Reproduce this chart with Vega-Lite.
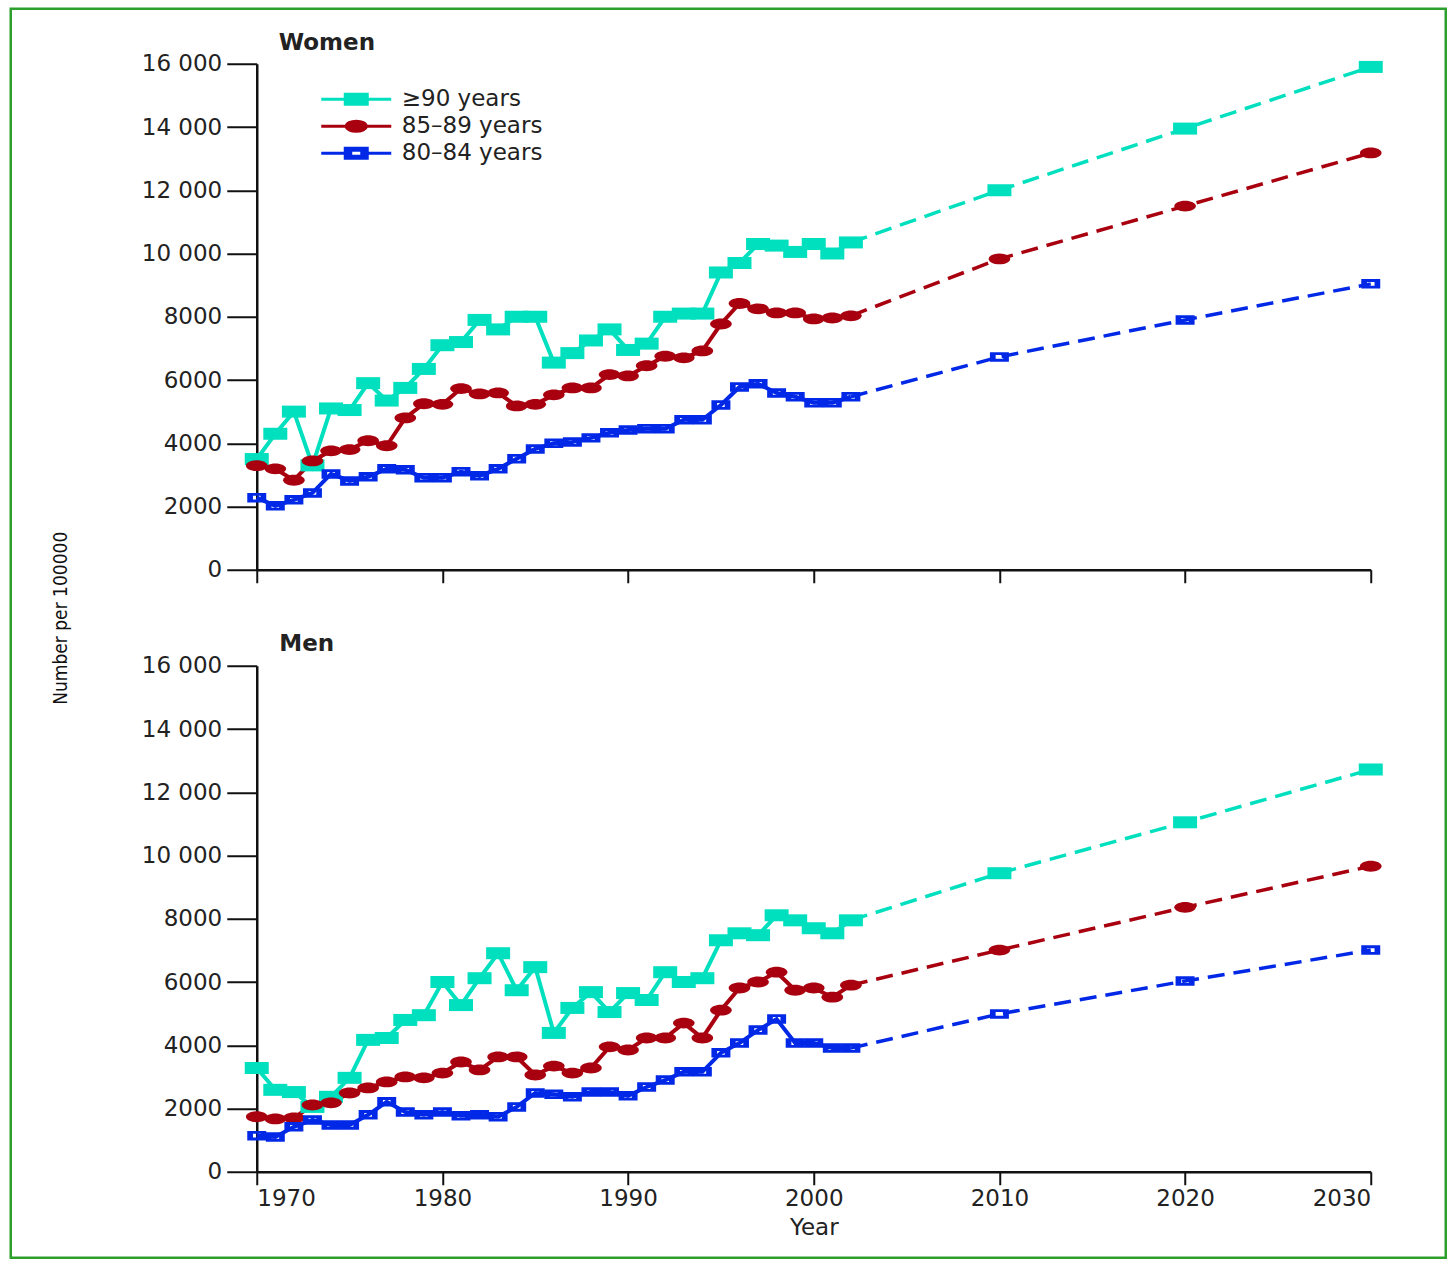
{
  "$schema": "https://vega.github.io/schema/vega-lite/v6.json",
  "background": "white",
  "padding": {"left": 8.75, "top": 6.75, "right": 0, "bottom": 0},
  "bounds": "flush",
  "spacing": 96,
  "resolve": {"legend": {"color": "independent"}},
  "config": {
    "font": "DejaVu Sans",
    "view": {"stroke": null},
    "axis": {"grid": false, "domainColor": "#111", "domainWidth": 2.5, "tickColor": "#111", "tickWidth": 2, "labelColor": "#222", "labelFont": "DejaVu Sans", "labelFontSize": 23, "titleColor": "#222", "titleFont": "DejaVu Sans", "titleFontSize": 23, "titleFontWeight": "normal"},
    "title": {"font": "DejaVu Sans", "fontSize": 23, "fontWeight": "bold", "color": "#222", "anchor": "start", "frame": "group", "dx": 22, "offset": -2}
  },
  "datasets": {
    "rates": [
      {"sex":"Women","age":"≥90 years","year":1970,"value":3500,"kind":"obs"},
      {"sex":"Women","age":"≥90 years","year":1971,"value":4300,"kind":"obs"},
      {"sex":"Women","age":"≥90 years","year":1972,"value":5000,"kind":"obs"},
      {"sex":"Women","age":"≥90 years","year":1973,"value":3300,"kind":"obs"},
      {"sex":"Women","age":"≥90 years","year":1974,"value":5100,"kind":"obs"},
      {"sex":"Women","age":"≥90 years","year":1975,"value":5050,"kind":"obs"},
      {"sex":"Women","age":"≥90 years","year":1976,"value":5900,"kind":"obs"},
      {"sex":"Women","age":"≥90 years","year":1977,"value":5350,"kind":"obs"},
      {"sex":"Women","age":"≥90 years","year":1978,"value":5750,"kind":"obs"},
      {"sex":"Women","age":"≥90 years","year":1979,"value":6350,"kind":"obs"},
      {"sex":"Women","age":"≥90 years","year":1980,"value":7100,"kind":"obs"},
      {"sex":"Women","age":"≥90 years","year":1981,"value":7200,"kind":"obs"},
      {"sex":"Women","age":"≥90 years","year":1982,"value":7900,"kind":"obs"},
      {"sex":"Women","age":"≥90 years","year":1983,"value":7600,"kind":"obs"},
      {"sex":"Women","age":"≥90 years","year":1984,"value":8000,"kind":"obs"},
      {"sex":"Women","age":"≥90 years","year":1985,"value":8000,"kind":"obs"},
      {"sex":"Women","age":"≥90 years","year":1986,"value":6550,"kind":"obs"},
      {"sex":"Women","age":"≥90 years","year":1987,"value":6850,"kind":"obs"},
      {"sex":"Women","age":"≥90 years","year":1988,"value":7250,"kind":"obs"},
      {"sex":"Women","age":"≥90 years","year":1989,"value":7600,"kind":"obs"},
      {"sex":"Women","age":"≥90 years","year":1990,"value":6950,"kind":"obs"},
      {"sex":"Women","age":"≥90 years","year":1991,"value":7150,"kind":"obs"},
      {"sex":"Women","age":"≥90 years","year":1992,"value":8000,"kind":"obs"},
      {"sex":"Women","age":"≥90 years","year":1993,"value":8100,"kind":"obs"},
      {"sex":"Women","age":"≥90 years","year":1994,"value":8100,"kind":"obs"},
      {"sex":"Women","age":"≥90 years","year":1995,"value":9400,"kind":"obs"},
      {"sex":"Women","age":"≥90 years","year":1996,"value":9700,"kind":"obs"},
      {"sex":"Women","age":"≥90 years","year":1997,"value":10300,"kind":"obs"},
      {"sex":"Women","age":"≥90 years","year":1998,"value":10250,"kind":"obs"},
      {"sex":"Women","age":"≥90 years","year":1999,"value":10050,"kind":"obs"},
      {"sex":"Women","age":"≥90 years","year":2000,"value":10300,"kind":"obs"},
      {"sex":"Women","age":"≥90 years","year":2001,"value":10000,"kind":"obs"},
      {"sex":"Women","age":"≥90 years","year":2002,"value":10350,"kind":"obs"},
      {"sex":"Women","age":"≥90 years","year":2002,"value":10350,"kind":"proj"},
      {"sex":"Women","age":"≥90 years","year":2010,"value":12000,"kind":"proj"},
      {"sex":"Women","age":"≥90 years","year":2020,"value":13950,"kind":"proj"},
      {"sex":"Women","age":"≥90 years","year":2030,"value":15900,"kind":"proj"},
      {"sex":"Women","age":"85–89 years","year":1970,"value":3290,"kind":"obs"},
      {"sex":"Women","age":"85–89 years","year":1971,"value":3190,"kind":"obs"},
      {"sex":"Women","age":"85–89 years","year":1972,"value":2830,"kind":"obs"},
      {"sex":"Women","age":"85–89 years","year":1973,"value":3440,"kind":"obs"},
      {"sex":"Women","age":"85–89 years","year":1974,"value":3760,"kind":"obs"},
      {"sex":"Women","age":"85–89 years","year":1975,"value":3800,"kind":"obs"},
      {"sex":"Women","age":"85–89 years","year":1976,"value":4080,"kind":"obs"},
      {"sex":"Women","age":"85–89 years","year":1977,"value":3920,"kind":"obs"},
      {"sex":"Women","age":"85–89 years","year":1978,"value":4800,"kind":"obs"},
      {"sex":"Women","age":"85–89 years","year":1979,"value":5250,"kind":"obs"},
      {"sex":"Women","age":"85–89 years","year":1980,"value":5230,"kind":"obs"},
      {"sex":"Women","age":"85–89 years","year":1981,"value":5730,"kind":"obs"},
      {"sex":"Women","age":"85–89 years","year":1982,"value":5560,"kind":"obs"},
      {"sex":"Women","age":"85–89 years","year":1983,"value":5590,"kind":"obs"},
      {"sex":"Women","age":"85–89 years","year":1984,"value":5180,"kind":"obs"},
      {"sex":"Women","age":"85–89 years","year":1985,"value":5230,"kind":"obs"},
      {"sex":"Women","age":"85–89 years","year":1986,"value":5530,"kind":"obs"},
      {"sex":"Women","age":"85–89 years","year":1987,"value":5750,"kind":"obs"},
      {"sex":"Women","age":"85–89 years","year":1988,"value":5750,"kind":"obs"},
      {"sex":"Women","age":"85–89 years","year":1989,"value":6170,"kind":"obs"},
      {"sex":"Women","age":"85–89 years","year":1990,"value":6130,"kind":"obs"},
      {"sex":"Women","age":"85–89 years","year":1991,"value":6450,"kind":"obs"},
      {"sex":"Women","age":"85–89 years","year":1992,"value":6750,"kind":"obs"},
      {"sex":"Women","age":"85–89 years","year":1993,"value":6700,"kind":"obs"},
      {"sex":"Women","age":"85–89 years","year":1994,"value":6920,"kind":"obs"},
      {"sex":"Women","age":"85–89 years","year":1995,"value":7770,"kind":"obs"},
      {"sex":"Women","age":"85–89 years","year":1996,"value":8420,"kind":"obs"},
      {"sex":"Women","age":"85–89 years","year":1997,"value":8250,"kind":"obs"},
      {"sex":"Women","age":"85–89 years","year":1998,"value":8120,"kind":"obs"},
      {"sex":"Women","age":"85–89 years","year":1999,"value":8120,"kind":"obs"},
      {"sex":"Women","age":"85–89 years","year":2000,"value":7930,"kind":"obs"},
      {"sex":"Women","age":"85–89 years","year":2001,"value":7960,"kind":"obs"},
      {"sex":"Women","age":"85–89 years","year":2002,"value":8030,"kind":"obs"},
      {"sex":"Women","age":"85–89 years","year":2002,"value":8030,"kind":"proj"},
      {"sex":"Women","age":"85–89 years","year":2010,"value":9830,"kind":"proj"},
      {"sex":"Women","age":"85–89 years","year":2020,"value":11500,"kind":"proj"},
      {"sex":"Women","age":"85–89 years","year":2030,"value":13180,"kind":"proj"},
      {"sex":"Women","age":"80–84 years","year":1970,"value":2280,"kind":"obs"},
      {"sex":"Women","age":"80–84 years","year":1971,"value":2020,"kind":"obs"},
      {"sex":"Women","age":"80–84 years","year":1972,"value":2210,"kind":"obs"},
      {"sex":"Women","age":"80–84 years","year":1973,"value":2430,"kind":"obs"},
      {"sex":"Women","age":"80–84 years","year":1974,"value":3030,"kind":"obs"},
      {"sex":"Women","age":"80–84 years","year":1975,"value":2810,"kind":"obs"},
      {"sex":"Women","age":"80–84 years","year":1976,"value":2940,"kind":"obs"},
      {"sex":"Women","age":"80–84 years","year":1977,"value":3190,"kind":"obs"},
      {"sex":"Women","age":"80–84 years","year":1978,"value":3160,"kind":"obs"},
      {"sex":"Women","age":"80–84 years","year":1979,"value":2910,"kind":"obs"},
      {"sex":"Women","age":"80–84 years","year":1980,"value":2910,"kind":"obs"},
      {"sex":"Women","age":"80–84 years","year":1981,"value":3100,"kind":"obs"},
      {"sex":"Women","age":"80–84 years","year":1982,"value":2970,"kind":"obs"},
      {"sex":"Women","age":"80–84 years","year":1983,"value":3190,"kind":"obs"},
      {"sex":"Women","age":"80–84 years","year":1984,"value":3510,"kind":"obs"},
      {"sex":"Women","age":"80–84 years","year":1985,"value":3820,"kind":"obs"},
      {"sex":"Women","age":"80–84 years","year":1986,"value":4000,"kind":"obs"},
      {"sex":"Women","age":"80–84 years","year":1987,"value":4040,"kind":"obs"},
      {"sex":"Women","age":"80–84 years","year":1988,"value":4170,"kind":"obs"},
      {"sex":"Women","age":"80–84 years","year":1989,"value":4330,"kind":"obs"},
      {"sex":"Women","age":"80–84 years","year":1990,"value":4420,"kind":"obs"},
      {"sex":"Women","age":"80–84 years","year":1991,"value":4460,"kind":"obs"},
      {"sex":"Women","age":"80–84 years","year":1992,"value":4460,"kind":"obs"},
      {"sex":"Women","age":"80–84 years","year":1993,"value":4740,"kind":"obs"},
      {"sex":"Women","age":"80–84 years","year":1994,"value":4740,"kind":"obs"},
      {"sex":"Women","age":"80–84 years","year":1995,"value":5210,"kind":"obs"},
      {"sex":"Women","age":"80–84 years","year":1996,"value":5780,"kind":"obs"},
      {"sex":"Women","age":"80–84 years","year":1997,"value":5880,"kind":"obs"},
      {"sex":"Women","age":"80–84 years","year":1998,"value":5590,"kind":"obs"},
      {"sex":"Women","age":"80–84 years","year":1999,"value":5470,"kind":"obs"},
      {"sex":"Women","age":"80–84 years","year":2000,"value":5280,"kind":"obs"},
      {"sex":"Women","age":"80–84 years","year":2001,"value":5280,"kind":"obs"},
      {"sex":"Women","age":"80–84 years","year":2002,"value":5470,"kind":"obs"},
      {"sex":"Women","age":"80–84 years","year":2002,"value":5470,"kind":"proj"},
      {"sex":"Women","age":"80–84 years","year":2010,"value":6730,"kind":"proj"},
      {"sex":"Women","age":"80–84 years","year":2020,"value":7900,"kind":"proj"},
      {"sex":"Women","age":"80–84 years","year":2030,"value":9040,"kind":"proj"},
      {"sex":"Men","age":"≥90 years","year":1970,"value":3280,"kind":"obs"},
      {"sex":"Men","age":"≥90 years","year":1971,"value":2590,"kind":"obs"},
      {"sex":"Men","age":"≥90 years","year":1972,"value":2520,"kind":"obs"},
      {"sex":"Men","age":"≥90 years","year":1973,"value":2050,"kind":"obs"},
      {"sex":"Men","age":"≥90 years","year":1974,"value":2370,"kind":"obs"},
      {"sex":"Men","age":"≥90 years","year":1975,"value":2970,"kind":"obs"},
      {"sex":"Men","age":"≥90 years","year":1976,"value":4170,"kind":"obs"},
      {"sex":"Men","age":"≥90 years","year":1977,"value":4230,"kind":"obs"},
      {"sex":"Men","age":"≥90 years","year":1978,"value":4800,"kind":"obs"},
      {"sex":"Men","age":"≥90 years","year":1979,"value":4950,"kind":"obs"},
      {"sex":"Men","age":"≥90 years","year":1980,"value":6000,"kind":"obs"},
      {"sex":"Men","age":"≥90 years","year":1981,"value":5270,"kind":"obs"},
      {"sex":"Men","age":"≥90 years","year":1982,"value":6120,"kind":"obs"},
      {"sex":"Men","age":"≥90 years","year":1983,"value":6910,"kind":"obs"},
      {"sex":"Men","age":"≥90 years","year":1984,"value":5740,"kind":"obs"},
      {"sex":"Men","age":"≥90 years","year":1985,"value":6470,"kind":"obs"},
      {"sex":"Men","age":"≥90 years","year":1986,"value":4390,"kind":"obs"},
      {"sex":"Men","age":"≥90 years","year":1987,"value":5180,"kind":"obs"},
      {"sex":"Men","age":"≥90 years","year":1988,"value":5680,"kind":"obs"},
      {"sex":"Men","age":"≥90 years","year":1989,"value":5050,"kind":"obs"},
      {"sex":"Men","age":"≥90 years","year":1990,"value":5650,"kind":"obs"},
      {"sex":"Men","age":"≥90 years","year":1991,"value":5430,"kind":"obs"},
      {"sex":"Men","age":"≥90 years","year":1992,"value":6310,"kind":"obs"},
      {"sex":"Men","age":"≥90 years","year":1993,"value":6000,"kind":"obs"},
      {"sex":"Men","age":"≥90 years","year":1994,"value":6120,"kind":"obs"},
      {"sex":"Men","age":"≥90 years","year":1995,"value":7320,"kind":"obs"},
      {"sex":"Men","age":"≥90 years","year":1996,"value":7540,"kind":"obs"},
      {"sex":"Men","age":"≥90 years","year":1997,"value":7480,"kind":"obs"},
      {"sex":"Men","age":"≥90 years","year":1998,"value":8110,"kind":"obs"},
      {"sex":"Men","age":"≥90 years","year":1999,"value":7950,"kind":"obs"},
      {"sex":"Men","age":"≥90 years","year":2000,"value":7700,"kind":"obs"},
      {"sex":"Men","age":"≥90 years","year":2001,"value":7540,"kind":"obs"},
      {"sex":"Men","age":"≥90 years","year":2002,"value":7950,"kind":"obs"},
      {"sex":"Men","age":"≥90 years","year":2002,"value":7950,"kind":"proj"},
      {"sex":"Men","age":"≥90 years","year":2010,"value":9440,"kind":"proj"},
      {"sex":"Men","age":"≥90 years","year":2020,"value":11050,"kind":"proj"},
      {"sex":"Men","age":"≥90 years","year":2030,"value":12720,"kind":"proj"},
      {"sex":"Men","age":"85–89 years","year":1970,"value":1740,"kind":"obs"},
      {"sex":"Men","age":"85–89 years","year":1971,"value":1670,"kind":"obs"},
      {"sex":"Men","age":"85–89 years","year":1972,"value":1700,"kind":"obs"},
      {"sex":"Men","age":"85–89 years","year":1973,"value":2110,"kind":"obs"},
      {"sex":"Men","age":"85–89 years","year":1974,"value":2180,"kind":"obs"},
      {"sex":"Men","age":"85–89 years","year":1975,"value":2490,"kind":"obs"},
      {"sex":"Men","age":"85–89 years","year":1976,"value":2650,"kind":"obs"},
      {"sex":"Men","age":"85–89 years","year":1977,"value":2840,"kind":"obs"},
      {"sex":"Men","age":"85–89 years","year":1978,"value":3000,"kind":"obs"},
      {"sex":"Men","age":"85–89 years","year":1979,"value":2970,"kind":"obs"},
      {"sex":"Men","age":"85–89 years","year":1980,"value":3120,"kind":"obs"},
      {"sex":"Men","age":"85–89 years","year":1981,"value":3470,"kind":"obs"},
      {"sex":"Men","age":"85–89 years","year":1982,"value":3220,"kind":"obs"},
      {"sex":"Men","age":"85–89 years","year":1983,"value":3630,"kind":"obs"},
      {"sex":"Men","age":"85–89 years","year":1984,"value":3630,"kind":"obs"},
      {"sex":"Men","age":"85–89 years","year":1985,"value":3060,"kind":"obs"},
      {"sex":"Men","age":"85–89 years","year":1986,"value":3340,"kind":"obs"},
      {"sex":"Men","age":"85–89 years","year":1987,"value":3120,"kind":"obs"},
      {"sex":"Men","age":"85–89 years","year":1988,"value":3280,"kind":"obs"},
      {"sex":"Men","age":"85–89 years","year":1989,"value":3950,"kind":"obs"},
      {"sex":"Men","age":"85–89 years","year":1990,"value":3850,"kind":"obs"},
      {"sex":"Men","age":"85–89 years","year":1991,"value":4230,"kind":"obs"},
      {"sex":"Men","age":"85–89 years","year":1992,"value":4230,"kind":"obs"},
      {"sex":"Men","age":"85–89 years","year":1993,"value":4700,"kind":"obs"},
      {"sex":"Men","age":"85–89 years","year":1994,"value":4230,"kind":"obs"},
      {"sex":"Men","age":"85–89 years","year":1995,"value":5110,"kind":"obs"},
      {"sex":"Men","age":"85–89 years","year":1996,"value":5810,"kind":"obs"},
      {"sex":"Men","age":"85–89 years","year":1997,"value":6000,"kind":"obs"},
      {"sex":"Men","age":"85–89 years","year":1998,"value":6310,"kind":"obs"},
      {"sex":"Men","age":"85–89 years","year":1999,"value":5740,"kind":"obs"},
      {"sex":"Men","age":"85–89 years","year":2000,"value":5810,"kind":"obs"},
      {"sex":"Men","age":"85–89 years","year":2001,"value":5520,"kind":"obs"},
      {"sex":"Men","age":"85–89 years","year":2002,"value":5900,"kind":"obs"},
      {"sex":"Men","age":"85–89 years","year":2002,"value":5900,"kind":"proj"},
      {"sex":"Men","age":"85–89 years","year":2010,"value":7010,"kind":"proj"},
      {"sex":"Men","age":"85–89 years","year":2020,"value":8360,"kind":"proj"},
      {"sex":"Men","age":"85–89 years","year":2030,"value":9660,"kind":"proj"},
      {"sex":"Men","age":"80–84 years","year":1970,"value":1140,"kind":"obs"},
      {"sex":"Men","age":"80–84 years","year":1971,"value":1100,"kind":"obs"},
      {"sex":"Men","age":"80–84 years","year":1972,"value":1420,"kind":"obs"},
      {"sex":"Men","age":"80–84 years","year":1973,"value":1640,"kind":"obs"},
      {"sex":"Men","age":"80–84 years","year":1974,"value":1480,"kind":"obs"},
      {"sex":"Men","age":"80–84 years","year":1975,"value":1480,"kind":"obs"},
      {"sex":"Men","age":"80–84 years","year":1976,"value":1800,"kind":"obs"},
      {"sex":"Men","age":"80–84 years","year":1977,"value":2210,"kind":"obs"},
      {"sex":"Men","age":"80–84 years","year":1978,"value":1890,"kind":"obs"},
      {"sex":"Men","age":"80–84 years","year":1979,"value":1800,"kind":"obs"},
      {"sex":"Men","age":"80–84 years","year":1980,"value":1890,"kind":"obs"},
      {"sex":"Men","age":"80–84 years","year":1981,"value":1770,"kind":"obs"},
      {"sex":"Men","age":"80–84 years","year":1982,"value":1800,"kind":"obs"},
      {"sex":"Men","age":"80–84 years","year":1983,"value":1740,"kind":"obs"},
      {"sex":"Men","age":"80–84 years","year":1984,"value":2050,"kind":"obs"},
      {"sex":"Men","age":"80–84 years","year":1985,"value":2490,"kind":"obs"},
      {"sex":"Men","age":"80–84 years","year":1986,"value":2450,"kind":"obs"},
      {"sex":"Men","age":"80–84 years","year":1987,"value":2370,"kind":"obs"},
      {"sex":"Men","age":"80–84 years","year":1988,"value":2520,"kind":"obs"},
      {"sex":"Men","age":"80–84 years","year":1989,"value":2520,"kind":"obs"},
      {"sex":"Men","age":"80–84 years","year":1990,"value":2400,"kind":"obs"},
      {"sex":"Men","age":"80–84 years","year":1991,"value":2680,"kind":"obs"},
      {"sex":"Men","age":"80–84 years","year":1992,"value":2900,"kind":"obs"},
      {"sex":"Men","age":"80–84 years","year":1993,"value":3160,"kind":"obs"},
      {"sex":"Men","age":"80–84 years","year":1994,"value":3160,"kind":"obs"},
      {"sex":"Men","age":"80–84 years","year":1995,"value":3760,"kind":"obs"},
      {"sex":"Men","age":"80–84 years","year":1996,"value":4070,"kind":"obs"},
      {"sex":"Men","age":"80–84 years","year":1997,"value":4480,"kind":"obs"},
      {"sex":"Men","age":"80–84 years","year":1998,"value":4830,"kind":"obs"},
      {"sex":"Men","age":"80–84 years","year":1999,"value":4070,"kind":"obs"},
      {"sex":"Men","age":"80–84 years","year":2000,"value":4070,"kind":"obs"},
      {"sex":"Men","age":"80–84 years","year":2001,"value":3910,"kind":"obs"},
      {"sex":"Men","age":"80–84 years","year":2002,"value":3910,"kind":"obs"},
      {"sex":"Men","age":"80–84 years","year":2002,"value":3910,"kind":"proj"},
      {"sex":"Men","age":"80–84 years","year":2010,"value":4990,"kind":"proj"},
      {"sex":"Men","age":"80–84 years","year":2020,"value":6030,"kind":"proj"},
      {"sex":"Men","age":"80–84 years","year":2030,"value":7010,"kind":"proj"}
    ]
  },
  "vconcat": [
    {
      "width": 1114,
      "height": 506,
      "title": {"text": "Women"},
      "encoding": {
        "x": {"field": "year", "type": "quantitative", "scale": {"domain": [1970, 2030], "nice": false, "zero": false},
              "axis": {"values": [1970, 1980, 1990, 2000, 2010, 2020, 2030], "labels": false, "title": null, "tickSize": 13}},
        "y": {"field": "value", "type": "quantitative", "scale": {"domain": [0, 16000], "nice": false},
              "axis": {"values": [0, 2000, 4000, 6000, 8000, 10000, 12000, 14000, 16000], "tickSize": 30, "labelPadding": 5,
                       "labelExpr": "datum.value >= 10000 ? format(datum.value / 1000, 'd') + ' 000' : format(datum.value, 'd')",
                       "title": "Number per 100000", "titleFont": "'DejaVu Sans Condensed', 'Liberation Sans', sans-serif", "titleFontSize": 19, "titleColor": "#111",
                       "titleX": -196, "titleY": 554, "titleAngle": 270, "titleAlign": "center", "titleBaseline": "middle"}}
      },
      "layer": [
        {
          "data": {"name": "rates"},
          "transform": [{"filter": "datum.sex == 'Women' && datum.kind == 'obs'"}],
          "mark": {"type": "line", "strokeWidth": 4},
          "encoding": {
            "color": {"field": "age", "type": "nominal",
                      "scale": {"domain": ["≥90 years", "85–89 years", "80–84 years"], "range": ["#00DFBE", "#A8000F", "#0028E6"]},
                      "legend": {"orient": "none", "legendX": 88, "legendY": 24, "title": null, "padding": 0,
                                 "symbolSize": 100, "symbolStrokeWidth": 3, "labelOffset": 34, "rowPadding": 3,
                                 "labelFont": "DejaVu Sans", "labelFontSize": 23, "labelColor": "#222",
                                 "encode": {"symbols": {"update": {
                                   "shape": {"signal": "datum.value == '80–84 years' ? 'M-7,0H-2.2M2.2,0H7M-2.2,-1H2.2V1H-2.2ZM-1.1,-0.6V0.6H1.1V-0.6Z' : (datum.value == '85–89 years' ? 'M-7,0H-2M2,0H7M-2,0A2,1,0,1,1,2,0A2,1,0,1,1,-2,0Z' : 'M-7,0H-2.2M2.2,0H7M-2.2,-1H2.2V1H-2.2Z')"},
                                   "fill": {"scale": "color", "field": "value"},
                                   "stroke": {"scale": "color", "field": "value"},
                                   "strokeWidth": {"value": 3},
                                   "strokeDash": {"value": []},
                                   "opacity": {"value": 1}
                                 }}}}}
          }
        },
        {
          "data": {"name": "rates"},
          "transform": [{"filter": "datum.sex == 'Women' && datum.kind == 'proj'"}],
          "mark": {"type": "line", "strokeWidth": 3.5, "strokeDash": [17, 9]},
          "encoding": {"color": {"field": "age", "type": "nominal"}}
        },
        {
          "data": {"name": "rates"},
          "transform": [{"filter": "datum.sex == 'Women' && (datum.kind == 'obs' || datum.year > 2002)"}],
          "mark": {"type": "point", "filled": true, "opacity": 1, "strokeWidth": 0},
          "encoding": {
            "color": {"field": "age", "type": "nominal"},
            "shape": {"field": "age", "type": "nominal", "legend": null,
                      "scale": {"domain": ["≥90 years", "85–89 years", "80–84 years"],
                                "range": ["M-2,-1H2V1H-2Z", "M-2,0A2,1,0,1,1,2,0A2,1,0,1,1,-2,0Z", "M-2,-1H2V1H-2ZM-0.8,-0.4V0.4H0.8V-0.4Z"]}},
            "size": {"field": "age", "type": "nominal", "legend": null,
                     "scale": {"domain": ["≥90 years", "85–89 years", "80–84 years"], "range": [144, 90, 121]}}
          }
        }
      ]
    },
    {
      "width": 1114,
      "height": 506,
      "layer": [
        {
          "encoding": {
            "x": {"field": "year", "type": "quantitative", "scale": {"domain": [1970, 2030], "nice": false, "zero": false},
                  "axis": {"values": [1970, 1980, 1990, 2000, 2010, 2020, 2030], "format": "d", "tickSize": 13, "labelPadding": 3,
                           "title": "Year", "titlePadding": 6}},
            "y": {"field": "value", "type": "quantitative", "scale": {"domain": [0, 16000], "nice": false},
                  "axis": {"values": [0, 2000, 4000, 6000, 8000, 10000, 12000, 14000, 16000], "tickSize": 30, "labelPadding": 5,
                           "labelExpr": "datum.value >= 10000 ? format(datum.value / 1000, 'd') + ' 000' : format(datum.value, 'd')",
                           "title": "Men", "titleAngle": 0, "titleX": 22, "titleY": -22, "titleAlign": "left", "titleBaseline": "middle",
                           "titleFontWeight": "bold", "titleFontSize": 23, "titleColor": "#222"}}
          },
          "layer": [
            {
              "data": {"name": "rates"},
              "transform": [{"filter": "datum.sex == 'Men' && datum.kind == 'obs'"}],
              "mark": {"type": "line", "strokeWidth": 4},
              "encoding": {"color": {"field": "age", "type": "nominal", "legend": null}}
            },
            {
              "data": {"name": "rates"},
              "transform": [{"filter": "datum.sex == 'Men' && datum.kind == 'proj'"}],
              "mark": {"type": "line", "strokeWidth": 3.5, "strokeDash": [17, 9]},
              "encoding": {"color": {"field": "age", "type": "nominal", "legend": null}}
            },
            {
              "data": {"name": "rates"},
              "transform": [{"filter": "datum.sex == 'Men' && (datum.kind == 'obs' || datum.year > 2002)"}],
              "mark": {"type": "point", "filled": true, "opacity": 1, "strokeWidth": 0},
              "encoding": {
                "color": {"field": "age", "type": "nominal", "legend": null},
                "shape": {"field": "age", "type": "nominal", "legend": null},
                "size": {"field": "age", "type": "nominal", "legend": null}
              }
            }
          ]
        },
        {
          "data": {"values": [{"frame": "figure border"}]},
          "mark": {"type": "rect", "fill": "transparent", "stroke": "#2C9F2C", "strokeWidth": 2.5, "clip": false},
          "encoding": {
            "x": {"datum": 1956.75, "type": "quantitative"},
            "x2": {"datum": 2034.04},
            "y": {"datum": 36775, "type": "quantitative"},
            "y2": {"datum": -2719}
          }
        }
      ]
    }
  ]
}
